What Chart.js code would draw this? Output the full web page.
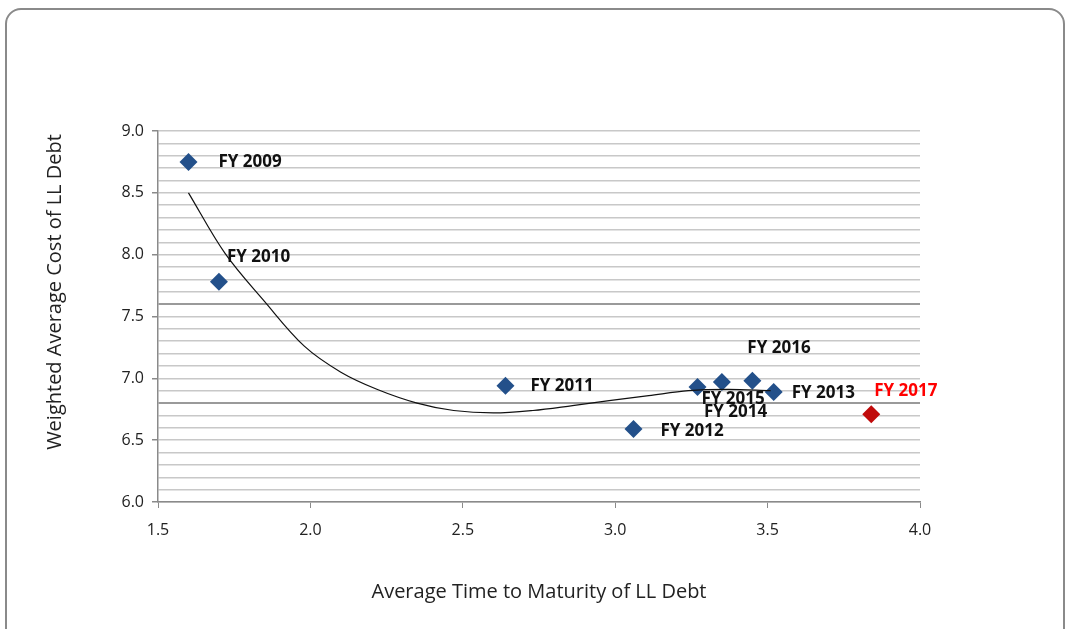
<!DOCTYPE html>
<html>
<head>
<meta charset="utf-8">
<script src="https://cdn.jsdelivr.net/npm/chart.js@4.4.1/dist/chart.umd.min.js"></script>
<style>
  html, body { margin: 0; padding: 0; background: #fff; overflow: hidden; }
  #frame {
    position: absolute; left: 5px; top: 8px; width: 1060px; height: 660px;
    border: 2px solid #8a8a8a; border-radius: 16px; box-sizing: border-box;
  }
  #wrap { position: absolute; left: 0; top: 0; width: 1071px; height: 629px; }
</style>
</head>
<body>
<div id="frame"></div>
<div id="wrap"><canvas id="myChart" width="1071" height="629"></canvas></div>
<script>
// fiscal years and their values
const years = ['FY 2009', 'FY 2010', 'FY 2011', 'FY 2012', 'FY 2013', 'FY 2014', 'FY 2015', 'FY 2016', 'FY 2017'];
const maturity = [1.60, 1.70, 2.64, 3.06, 3.52, 3.35, 3.27, 3.45, 3.84];
const cost = [8.75, 7.78, 6.94, 6.59, 6.89, 6.97, 6.93, 6.98, 6.71];

// trend line
const trendX = [1.60, 1.72, 1.85, 1.98, 2.10, 2.22, 2.35, 2.47, 2.60, 2.73, 2.86, 2.98, 3.11, 3.24, 3.37, 3.51];
const trendY = [8.50, 8.01, 7.62, 7.26, 7.05, 6.91, 6.80, 6.74, 6.72, 6.74, 6.78, 6.82, 6.86, 6.90, 6.91, 6.90];

const xTicks = [1.5, 2.0, 2.5, 3.0, 3.5, 4.0];
const yTitle = 'Weighted Average Cost of LL Debt';

const blue = '#23508a';
const red = '#c00a0a';

// where each label sits relative to its marker
const labelOffsets = {
  'FY 2009': [30, 0], 'FY 2010': [8, -25], 'FY 2011': [25, 0], 'FY 2012': [27, 2],
  'FY 2013': [18, 1], 'FY 2014': [-18, 30], 'FY 2015': [4, 12], 'FY 2016': [-5, -33],
  'FY 2017': [3, -23]
};

const pointLabels = {
  id: 'pointLabels',
  afterDatasetsDraw(chart) {
    const c = chart.ctx;
    const meta = chart.getDatasetMeta(1);
    c.save();
    c.font = 'bold 17px "Open Sans"';
    c.textBaseline = 'middle';
    c.textAlign = 'left';
    meta.data.forEach((pt, i) => {
      const off = labelOffsets[years[i]];
      c.fillStyle = years[i] === 'FY 2017' ? '#ff0000' : '#111';
      c.fillText(years[i], pt.x + off[0], pt.y + off[1]);
    });
    // y axis title, sits a bit above the axis middle like the original
    c.translate(55, 292);
    c.rotate(-Math.PI / 2);
    c.textAlign = 'center';
    c.fillStyle = '#222';
    c.font = '20px "Open Sans"';
    c.fillText(yTitle, 0, 0);
    c.restore();
  }
};

const ctx = document.getElementById('myChart');
const isMajor = v => Math.abs(v * 2 - Math.round(v * 2)) < 1e-6;
const isDark = v => Math.abs(v - 7.6) < 1e-6 || Math.abs(v - 6.8) < 1e-6;

new Chart(ctx, {
  type: 'scatter',
  data: {
    datasets: [{
      label: 'trend',
      type: 'line',
      data: trendX.map((x, i) => ({ x: x, y: trendY[i] })),
      borderColor: '#111',
      borderWidth: 1.2,
      pointRadius: 0,
      tension: 0.35,
      fill: false
    }, {
      label: 'cost',
      data: maturity.map((x, i) => ({ x: x, y: cost[i] })),
      pointStyle: 'rectRot',
      pointRadius: 9,
      pointHoverRadius: 9,
      backgroundColor: years.map(y => y === 'FY 2017' ? red : blue),
      borderColor: years.map(y => y === 'FY 2017' ? red : blue),
      borderWidth: 0
    }]
  },
  options: {
    responsive: false,
    animation: false,
    devicePixelRatio: 1,
    layout: { padding: { left: 43, top: 131, right: 151, bottom: 25 } },
    plugins: { legend: { display: false }, tooltip: { enabled: false } },
    scales: {
      x: {
        type: 'linear', min: 1.5, max: 4.0,
        afterBuildTicks: s => { s.ticks = xTicks.map(v => ({ value: v })); },
        afterFit: s => { s.height = 629 - 502 - 25; },
        ticks: { callback: v => v.toFixed(1), color: '#222', font: { family: 'Open Sans', size: 16 }, padding: 13 },
        grid: { drawOnChartArea: false, drawTicks: true, tickLength: 6, color: '#8a8a8a' },
        border: { color: '#8a8a8a', width: 1.5 },
        title: { display: true, text: 'Average Time to Maturity of LL Debt', color: '#222',
          font: { family: 'Open Sans', size: 20 }, padding: { top: 0, bottom: 0 } }
      },
      y: {
        type: 'linear', min: 6.0, max: 9.0,
        afterFit: s => { s.width = 158 - 43; },
        ticks: {
          stepSize: 0.1, autoSkip: false, maxTicksLimit: 40,
          callback: v => isMajor(v) ? v.toFixed(1) : '',
          color: '#222', font: { family: 'Open Sans', size: 16 }, padding: 8
        },
        grid: {
          drawTicks: true, tickLength: 6,
          color: c => isDark(c.tick.value) ? '#9a9a9a' : '#c8c8c8',
          lineWidth: c => isDark(c.tick.value) ? 2 : 1.5,
          tickColor: c => isMajor(c.tick.value) ? '#8a8a8a' : 'rgba(0,0,0,0)'
        },
        border: { color: '#8a8a8a', width: 1.5 }
      }
    }
  },
  plugins: [pointLabels]
});
</script>
</body>
</html>
